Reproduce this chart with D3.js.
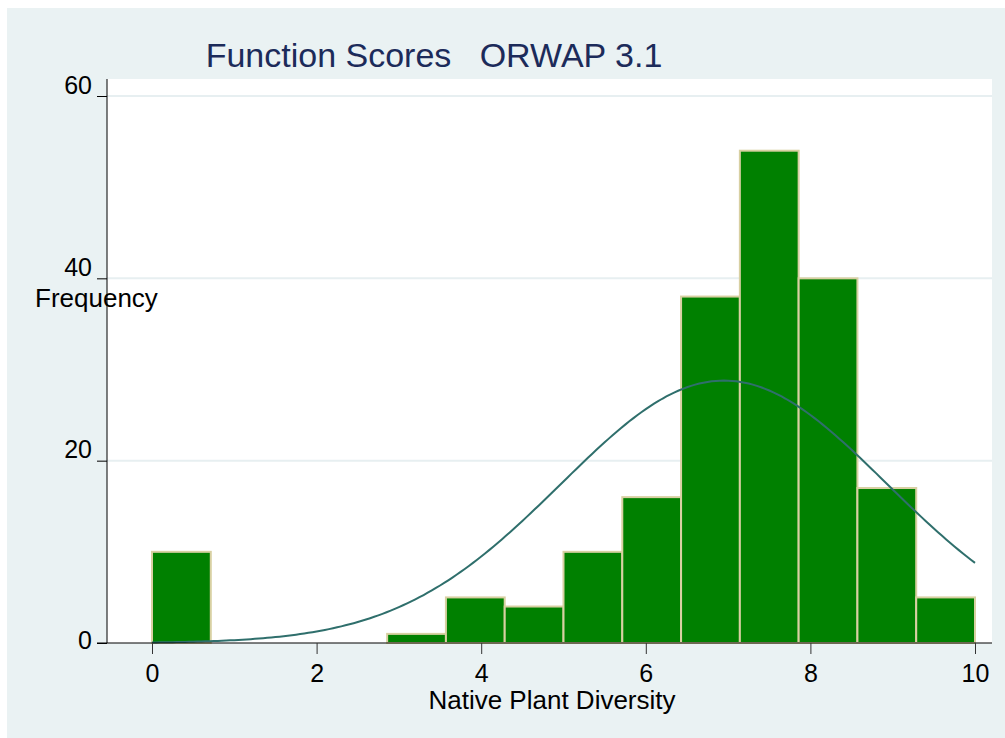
<!DOCTYPE html>
<html>
<head>
<meta charset="utf-8">
<script src="https://cdn.jsdelivr.net/npm/d3@7"></script>
<style>
  body { margin: 0; background: #fff; }
  svg { display: block; font-family: "Liberation Sans", Arial, sans-serif; }
</style>
</head>
<body>
<svg id="chart" width="1005" height="738"></svg>
<script>
// histogram: 14 equal bins between 0 and 10
var binStart = 0, binEnd = 10, binCount = 14;
var counts = [10, 0, 0, 0, 1, 5, 4, 10, 16, 38, 54, 40, 17, 5];
var xTicks = [0, 2, 4, 6, 8, 10];
var yTicks = [0, 20, 40, 60];
// fitted normal overlay
var normalMean = 6.95, normalSd = 1.98;

var svg = d3.select("#chart");
var plotL = 107, plotR = 992, plotT = 79, plotB = 643;

var x = d3.scaleLinear().domain([0, 10]).range([152, 975]);
var y = d3.scaleLinear().domain([0, 60]).range([plotB, 96]);

var binW = (binEnd - binStart) / binCount;
var bins = counts.map(function(c, i){
	return {x0: binStart + i*binW, x1: binStart + (i+1)*binW, n: c};
});
var total = d3.sum(counts);

// backgrounds
svg.append("rect").attr("x",7).attr("y",8).attr("width",998).attr("height",730).attr("fill","#eaf2f3");
svg.append("rect").attr("x",plotL).attr("y",plotT).attr("width",plotR-plotL).attr("height",plotB-plotT).attr("fill","#ffffff");

// grid
svg.selectAll(".grid").data(yTicks.filter(function(d){ return d > 0; })).enter().append("line")
	.attr("x1",plotL).attr("x2",plotR)
	.attr("y1",function(d){ return y(d); }).attr("y2",function(d){ return y(d); })
	.attr("stroke","#e7eff1").attr("stroke-width",2);

// bars
svg.selectAll(".bar").data(bins.filter(function(b){ return b.n > 0; })).enter().append("rect")
	.attr("x",function(b){ return x(b.x0); })
	.attr("width",function(b){ return x(b.x1) - x(b.x0); })
	.attr("y",function(b){ return y(b.n); })
	.attr("height",function(b){ return y(0) - y(b.n); })
	.attr("fill","#008000")
	.attr("stroke","#d8d0a2").attr("stroke-width",2);

// normal curve scaled to frequency
var curvePts = d3.range(0, 200.5).map(function(i){
	var v = binStart + i*(binEnd-binStart)/200;
	var z = (v - normalMean)/normalSd;
	var f = total*binW*Math.exp(-0.5*z*z)/(normalSd*Math.sqrt(2*Math.PI));
	return [v, f];
});
svg.append("path").datum(curvePts)
	.attr("d", d3.line().x(function(d){ return x(d[0]); }).y(function(d){ return y(d[1]); }))
	.attr("fill","none").attr("stroke","#2f6f6c").attr("stroke-width",2);

// axes
var yAxis = svg.append("g").attr("transform","translate("+plotL+",0)")
	.call(d3.axisLeft(y).tickValues(yTicks).tickSize(10).tickFormat(d3.format("d")));
yAxis.select(".domain").attr("d","M0,"+plotT+"V"+plotB).attr("stroke","#000");
yAxis.selectAll(".tick line").attr("stroke","#000");
yAxis.selectAll(".tick text")
	.attr("x",-15).attr("dy",function(d){ return d === 0 ? "5px" : "-3px"; })
	.attr("font-size",25).attr("fill","#000").attr("font-family","Liberation Sans, Arial, sans-serif");

var xAxis = svg.append("g").attr("transform","translate(0,"+plotB+")")
	.call(d3.axisBottom(x).tickValues(xTicks).tickSize(11).tickFormat(d3.format("d")));
xAxis.select(".domain").attr("d","M97,0H"+plotR).attr("stroke","#000");
xAxis.selectAll(".tick line").attr("stroke","#333");
xAxis.selectAll(".tick text")
	.attr("y",39).attr("dy",0)
	.attr("font-size",25).attr("fill","#000").attr("font-family","Liberation Sans, Arial, sans-serif");

// titles
svg.append("text").attr("x",434).attr("y",67).attr("text-anchor","middle")
	.attr("font-size",34).attr("fill","#1c2b5a").style("white-space","pre")
	.text("Function Scores   ORWAP 3.1");
svg.append("text").attr("x",35).attr("y",307)
	.attr("font-size",26).attr("fill","#000").text("Frequency");
svg.append("text").attr("x",552).attr("y",709).attr("text-anchor","middle")
	.attr("font-size",26).attr("fill","#000").text("Native Plant Diversity");
</script>
</body>
</html>
